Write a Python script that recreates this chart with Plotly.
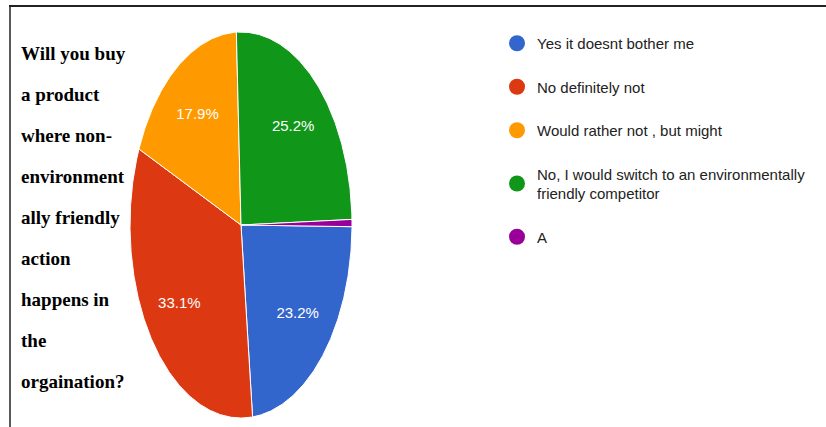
import numpy as np
import plotly.graph_objects as go

# Survey answers, in legend order
answers = [
    "Yes it doesnt bother me",
    "No definitely not",
    "Would rather not , but might",
    "No, I would switch to an environmentally<br>friendly competitor",
    "A",
]
shares = [23.2, 33.1, 17.9, 25.2, 0.6]  # percent of respondents
colors = ["#3366cc", "#dc3912", "#ff9900", "#109618", "#990099"]

question_lines = [
    "Will you buy",
    "a product",
    "where non-",
    "environment",
    "ally friendly",
    "action",
    "happens in",
    "the",
    "orgaination?",
]

W, H = 826, 427
START_DEG = 90.5          # first slice starts just below 3 o'clock, clockwise
PIE_BOX = (130, 352, 32, 418)   # left, right, top, bottom in px
LABEL_R = 0.69            # radial position of the percentage labels
SANS = "Liberation Sans, Arial, sans-serif"
SERIF = "Liberation Serif, Times New Roman, serif"

fig = go.Figure()

total = sum(shares)
angle = START_DEG
lab_x, lab_y, lab_t = [], [], []
for name, v, c in zip(answers, shares, colors):
    sweep = v / total * 360.0
    n = max(int(sweep * 2), 2) + 1
    th = np.radians(np.linspace(angle, angle + sweep, n))
    xs = np.concatenate([[0.0], np.sin(th), [0.0]])
    ys = np.concatenate([[0.0], np.cos(th), [0.0]])
    fig.add_trace(go.Scatter(
        x=xs, y=ys, mode="lines", fill="toself", fillcolor=c,
        line=dict(color="white", width=1), showlegend=False,
        hoverinfo="skip",
    ))
    if v >= 5:
        mid = np.radians(angle + sweep / 2)
        lab_x.append(LABEL_R * np.sin(mid))
        lab_y.append(LABEL_R * np.cos(mid))
        lab_t.append(f"{v:.1f}%")
    angle += sweep

fig.add_trace(go.Scatter(
    x=lab_x, y=lab_y, text=lab_t, mode="text",
    textfont=dict(family=SANS, size=15, color="white"),
    showlegend=False, hoverinfo="skip",
))

# Legend entries with round swatches
for i, (name, c) in enumerate(zip(answers, colors)):
    fig.add_trace(go.Scatter(
        x=[None], y=[None], mode="markers", name=name,
        marker=dict(color=c, size=16, symbol="circle"),
        legendgroup=f"g{i}",
    ))

# Question text on the left, one annotation per line
for i, line in enumerate(question_lines):
    fig.add_annotation(
        x=19 / W, y=1 - (53 + 41 * i) / H, xref="paper", yref="paper",
        xanchor="left", yanchor="middle", showarrow=False,
        text=f"<b>{line}</b>",
        font=dict(family=SERIF, size=19, color="black"),
    )

# Frame lines along the top and left edges
fig.add_shape(type="line", xref="paper", yref="paper",
              x0=9 / W, x1=1, y0=1 - 6 / H, y1=1 - 6 / H,
              line=dict(color="#222222", width=2))
fig.add_shape(type="line", xref="paper", yref="paper",
              x0=10 / W, x1=10 / W, y0=1 - 6 / H, y1=0,
              line=dict(color="#222222", width=1.5))

left, right, top, bottom = PIE_BOX
fig.update_layout(
    width=W, height=H,
    margin=dict(l=0, r=0, t=0, b=0, autoexpand=False),
    paper_bgcolor="white", plot_bgcolor="white",
    xaxis=dict(domain=[left / W, right / W], range=[-1, 1], visible=False,
               fixedrange=True),
    yaxis=dict(domain=[1 - bottom / H, 1 - top / H], range=[-1, 1],
               visible=False, fixedrange=True),
    legend=dict(
        x=497 / W, y=1 - 27 / H, xanchor="left", yanchor="top",
        font=dict(family=SANS, size=15, color="#222222"),
        tracegroupgap=21, bgcolor="rgba(0,0,0,0)",
    ),
    showlegend=True,
)

fig.write_html("out.html")
